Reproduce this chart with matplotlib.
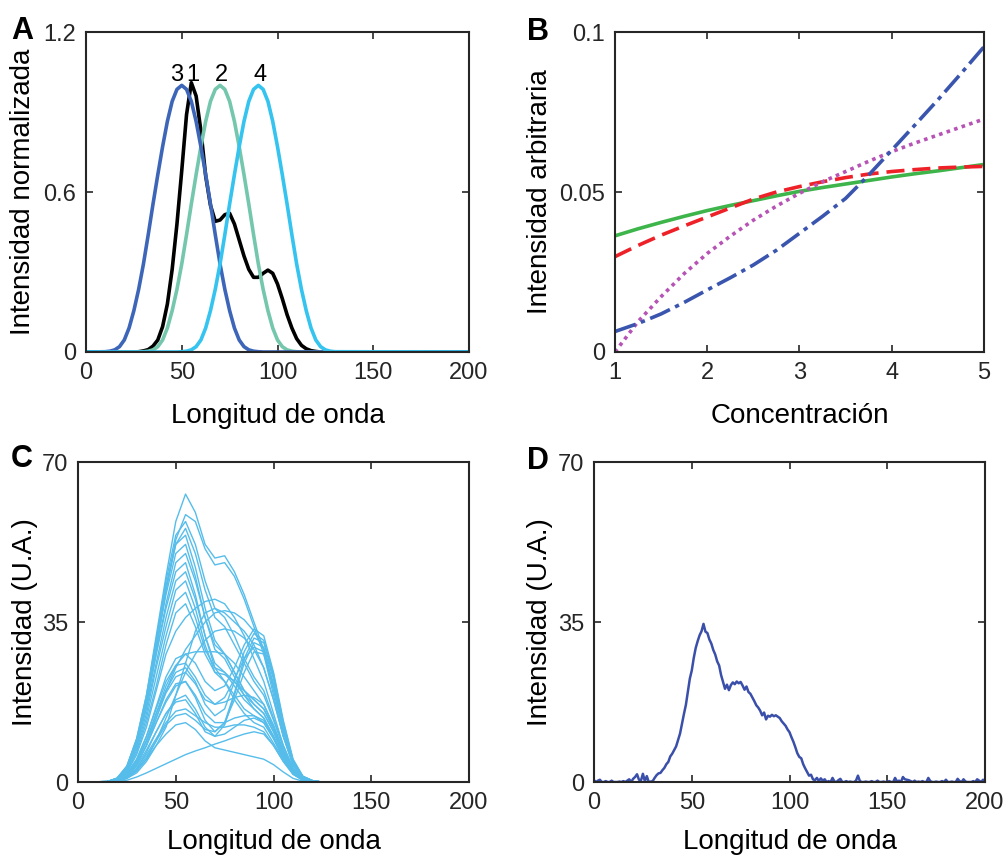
import numpy as np
import matplotlib
matplotlib.use("Agg")
import matplotlib.pyplot as plt

plt.rcParams['font.family'] = ['Liberation Sans', 'DejaVu Sans']
plt.rcParams['font.size'] = 17

# ---- panel A: normalised component spectra
wl_a = [0, 10, 12.5, 15, 17.5, 20, 22.5, 25, 27.5, 30, 32.5, 35, 37.5, 40, 42.5, 45, 47.5,
        50, 52.5, 55, 57.5, 60, 62.5, 65, 67.5, 70, 72.5, 75, 77.5, 80, 82.5, 85, 87.5,
        90, 92.5, 95, 97.5, 100, 102.5, 105, 107.5, 110, 112.5, 115, 117.5, 120, 122.5,
        125, 127.5, 130, 200]
spec_1 = [0, 0, 0, 0, 0, 0, 0, 0, 0.001, 0.004, 0.009, 0.022, 0.045, 0.095, 0.18, 0.31,
          0.48, 0.68, 0.89, 1.01, 0.96, 0.83, 0.66, 0.55, 0.49, 0.495, 0.515, 0.52, 0.48,
          0.42, 0.36, 0.31, 0.28, 0.28, 0.295, 0.307, 0.295, 0.255, 0.2, 0.14, 0.09, 0.05,
          0.025, 0.012, 0.005, 0.002, 0, 0, 0, 0, 0]
spec_2 = [0, 0, 0, 0, 0, 0, 0, 0, 0, 0.001, 0.003, 0.008, 0.02, 0.045, 0.09, 0.155, 0.235,
          0.33, 0.44, 0.555, 0.665, 0.77, 0.865, 0.94, 0.985, 1.0, 0.985, 0.94, 0.865, 0.77,
          0.665, 0.555, 0.44, 0.33, 0.235, 0.155, 0.09, 0.045, 0.02, 0.008, 0.003, 0.001,
          0, 0, 0, 0, 0, 0, 0, 0, 0]
spec_3 = [0, 0.001, 0.003, 0.008, 0.02, 0.045, 0.09, 0.155, 0.235, 0.33, 0.44, 0.555,
          0.665, 0.77, 0.865, 0.94, 0.985, 1.0, 0.985, 0.94, 0.865, 0.77, 0.665, 0.555,
          0.44, 0.33, 0.235, 0.155, 0.09, 0.045, 0.02, 0.008, 0.003, 0.001,
          0, 0, 0, 0, 0, 0, 0, 0, 0, 0, 0, 0, 0, 0, 0, 0, 0]
spec_4 = [0, 0, 0, 0, 0, 0, 0, 0, 0, 0, 0, 0, 0, 0, 0, 0, 0, 0.001, 0.003, 0.008, 0.02,
          0.045, 0.09, 0.155, 0.235, 0.33, 0.44, 0.555, 0.665, 0.77, 0.865, 0.94, 0.985,
          1.0, 0.985, 0.94, 0.865, 0.77, 0.665, 0.555, 0.44, 0.33, 0.235, 0.155, 0.09,
          0.045, 0.02, 0.008, 0.003, 0.001, 0]
peak_labels = ["3", "1", "2", "4"]
peak_label_x = [47.4, 55.6, 70.9, 91.0]

# ---- panel B: intensity vs concentration
conc = [1, 1.25, 1.5, 1.75, 2, 2.25, 2.5, 2.75, 3, 3.25, 3.5, 3.75, 4, 4.25, 4.5, 4.75, 5]
int_green = [0.0363, 0.0385, 0.0405, 0.0424, 0.0442, 0.0458, 0.0473, 0.0488, 0.0502, 0.0514,
             0.0525, 0.0536, 0.0547, 0.0557, 0.0566, 0.0576, 0.0586]
int_red = [0.0298, 0.0333, 0.0365, 0.0394, 0.0422, 0.0450, 0.0478, 0.0500, 0.0517, 0.0532,
           0.0545, 0.0556, 0.0564, 0.0570, 0.0575, 0.0578, 0.0580]
int_magenta = [0, 0.0095, 0.0173, 0.0245, 0.0308, 0.0362, 0.0412, 0.0456, 0.0496, 0.0532,
               0.0564, 0.0596, 0.0626, 0.0653, 0.0678, 0.0703, 0.0728]
int_blue = [0.0064, 0.0089, 0.0119, 0.0155, 0.0194, 0.0232, 0.0272, 0.0318, 0.0371, 0.0424,
            0.0480, 0.0553, 0.0631, 0.0709, 0.0788, 0.0870, 0.0954]

# ---- panel C: mixture spectra
wl_c = [0, 15, 20, 25, 30, 35, 40, 45, 50, 55, 60, 65, 70, 75, 80, 85, 90, 95, 100, 105,
        110, 115, 120, 125, 200]
spectra_c = [
    [0, 0.1, 0.8, 3.5, 9.5, 19, 32, 45, 57, 63, 59, 52, 49, 49.5, 46, 41, 35, 29, 20, 11, 4, 1, 0.2, 0, 0],
    [0, 0.1, 0.7, 3, 8.5, 17, 29, 42, 53, 58.5, 57, 51, 47.5, 48, 45, 40, 34, 28, 19, 10, 3.5, 0.9, 0.2, 0, 0],
    [0, 0.1, 0.8, 3.2, 9, 18, 31, 44, 54, 57, 52, 44, 38, 36, 32, 27, 23, 20, 14, 8, 3, 0.8, 0.2, 0, 0],
    [0, 0.1, 0.7, 3, 8.5, 17, 29, 42, 52, 55.5, 50, 42, 36, 34, 30, 26, 22, 19, 13.5, 7.5, 2.8, 0.7, 0.1, 0, 0],
    [0, 0.1, 0.9, 3.5, 9.5, 19, 31, 43, 52, 54, 47, 38, 31, 28, 24, 20, 17, 15, 11, 6, 2.3, 0.6, 0.1, 0, 0],
    [0, 0.1, 0.8, 3.2, 9, 18, 30, 41, 50, 52, 45, 36, 29, 27, 23, 19, 16, 14, 10, 5.5, 2, 0.5, 0.1, 0, 0],
    [0, 0.1, 0.7, 3, 8.5, 17, 28, 39, 48, 50, 44, 36, 30, 28, 24, 20, 18, 16, 11.5, 6.5, 2.5, 0.6, 0.1, 0, 0],
    [0, 0.1, 0.8, 3.3, 9, 17, 28, 38, 46, 48, 41, 32, 25, 22, 18, 15, 13, 12, 8.5, 5, 1.8, 0.5, 0.1, 0, 0],
    [0, 0.1, 0.7, 3, 8, 16, 26, 36, 44, 46, 40, 32, 26, 24, 21, 18, 16, 14, 10, 5.5, 2, 0.5, 0.1, 0, 0],
    [0, 0.1, 0.6, 2.6, 7.5, 15, 25, 34, 42, 44, 38, 30, 24, 22, 19, 16, 14.5, 13, 9.5, 5.2, 1.9, 0.5, 0.1, 0, 0],
    [0, 0.1, 0.6, 2.5, 7, 14, 23, 32, 39.5, 41.5, 36, 29, 25, 24, 22, 19, 17, 15, 11, 6, 2.2, 0.6, 0.1, 0, 0],
    [0, 0.1, 0.5, 2.2, 6.5, 13, 21, 30, 37, 39, 34, 28, 24, 23.5, 22, 20, 18, 16, 12, 6.5, 2.4, 0.6, 0.1, 0, 0],
    [0, 0.05, 0.4, 1.8, 5, 10, 16.5, 23, 27, 28, 26, 22, 20, 21, 25, 30, 33.5, 32, 24, 13.5, 5, 1.3, 0.3, 0, 0],
    [0, 0.05, 0.3, 1.5, 4.5, 9, 15, 20, 24, 25, 22, 17, 14.5, 16, 22, 28.5, 32.5, 31, 23.5, 13, 4.8, 1.2, 0.3, 0, 0],
    [0, 0, 0.3, 1.3, 3.8, 8, 13, 18, 21.5, 22, 18.5, 13.5, 11, 13, 19.5, 27, 31.5, 30.5, 23, 12.5, 4.6, 1.2, 0.3, 0, 0],
    [0, 0, 0.2, 1, 3, 6.5, 11, 15, 17.5, 18, 15, 11, 10, 12.5, 19, 26, 30.5, 29.5, 22.5, 12, 4.4, 1.1, 0.3, 0, 0],
    [0, 0.05, 0.4, 1.7, 5, 10, 16, 22, 25.5, 26, 23, 19, 17, 18.5, 22.5, 27, 29.5, 28.5, 21.5, 12, 4.3, 1.1, 0.3, 0, 0],
    [0, 0, 0.2, 0.9, 2.7, 5.5, 9, 12.5, 14.5, 15, 13.5, 11.5, 11, 13, 18, 24, 28.5, 28, 21, 11.5, 4.2, 1, 0.2, 0, 0],
    [0, 0, 0.2, 0.8, 2, 4.5, 8, 12, 19, 26, 33, 37, 38, 37, 35, 33, 30, 25, 18, 10, 4, 1, 0.2, 0, 0],
    [0, 0.05, 0.3, 1.3, 3.8, 8, 14, 20, 25, 29, 32, 35, 37, 37.5, 37, 35.5, 33, 29, 21, 11.5, 4.2, 1.1, 0.3, 0, 0],
    [0, 0.05, 0.5, 2, 6, 12, 20, 28, 33, 36, 38, 39.5, 40, 39, 36, 32, 27, 22, 15, 8, 3, 0.8, 0.2, 0, 0],
    [0, 0.05, 0.4, 1.6, 4.5, 9, 15, 21, 25.5, 28, 28.5, 28.5, 28.5, 28, 26, 23, 20, 17, 12, 6.5, 2.4, 0.6, 0.1, 0, 0],
    [0, 0, 0.2, 0.8, 2.4, 5, 9, 14, 19, 24, 28, 31, 33, 33.5, 33, 31.5, 29, 25, 18, 10, 3.8, 1, 0.2, 0, 0],
    [0, 0, 0.1, 0.4, 1.1, 2, 3, 4, 5, 6, 6.8, 7.5, 8.3, 9, 9.8, 10.5, 11, 10.5, 8, 4.5, 1.7, 0.4, 0.1, 0, 0],
    [0, 0, 0.2, 0.9, 2.5, 5, 8, 10.5, 12.5, 13, 11.5, 9, 7.5, 7, 6.5, 6, 5.5, 5, 3.8, 2.2, 0.8, 0.2, 0, 0, 0],
    [0, 0, 0.2, 1, 3, 6, 9.5, 13, 15.5, 16, 14.5, 13, 12, 12, 12.5, 12.5, 12, 11, 8, 4.5, 1.7, 0.4, 0.1, 0, 0],
    [0, 0.05, 0.3, 1.2, 3.5, 7, 11, 15, 18, 19, 16, 12, 10, 10.5, 12, 13.5, 14, 13, 9.5, 5.2, 1.9, 0.5, 0.1, 0, 0],
    [0, 0.05, 0.3, 1.4, 4, 8, 13, 17.5, 21, 22, 19, 15, 13, 13, 14, 14.5, 14.5, 13.5, 10, 5.5, 2, 0.5, 0.1, 0, 0],
    [0, 0.05, 0.4, 1.6, 4.5, 9, 14, 19.5, 23, 24, 21.5, 18, 17, 17.5, 18.5, 19, 18.5, 17, 12.5, 7, 2.5, 0.6, 0.1, 0, 0],
]

# ---- panel D: one measured (noisy) spectrum, 1 nm steps 0..200
wl_d = np.arange(0, 201)
int_d = [0.4, 0.0, 0.3, 0.5, 0.0, 0.0, 0.2, 0.0, 0.0, 0.3,
         0.0, 0.0, 0.0, 0.1, 0.0, 0.2, 0.0, 0.3, 0.6, 0.0,
         0.7, 1.1, 1.7, 0.5, 0.3, 1.8, 0.2, 1.3, 0.0, 0.1,
         0.2, 0.9, 1.5, 1.9, 2.0, 2.6, 3.1, 3.9, 4.4, 5.6,
         6.2, 7.0, 7.8, 9.2, 10.6, 12.8, 14.9, 16.9, 19.8, 22.6,
         24.4, 27.1, 29.3, 30.8, 32.1, 33.0, 34.6, 32.9, 32.6, 31.2,
         30.3, 28.9, 27.9, 26.4, 25.5, 23.4, 21.9, 20.4, 21.3, 20.1,
         21.2, 21.8, 21.4, 22.0, 21.6, 21.9, 21.1, 20.2, 20.9, 19.7,
         19.3, 18.5, 17.7, 16.8, 16.3, 15.6, 14.6, 15.2, 13.7, 14.5,
         14.3, 14.7, 14.4, 14.6, 14.3, 14.0, 13.3, 12.8, 12.3, 11.5,
         10.9, 9.8, 8.8, 7.6, 6.3, 5.5, 5.2, 3.9, 3.0, 2.2,
         1.4, 1.6, 0.6, 0.4, 0.9, 0.2, 0.8, 0.3, 0.6, 0.0,
         0.2, 0.0, 0.9, 0.1, 0.0, 0.4, 0.7, 0.0, 0.0, 0.2,
         0.0, 0.1, 0.0, 0.0, 0.3, 1.4, 0.2, 0.0, 0.0, 0.1,
         0.0, 0.0, 0.2, 0.0, 0.0, 0.3, 0.0, 0.0, 0.1, 0.0,
         0.0, 0.2, 0.0, 0.0, 0.9, 0.1, 0.3, 0.0, 1.1, 0.6,
         0.5, 0.4, 0.2, 0.0, 0.3, 0.0, 0.1, 0.0, 0.2, 0.0,
         0.0, 0.9, 0.2, 0.0, 0.0, 0.1, 0.0, 0.0, 0.2, 0.0,
         0.5, 0.0, 0.0, 0.1, 0.0, 0.0, 0.7, 0.2, 0.0, 0.6,
         0.1, 0.0, 0.0, 0.0, 0.2, 0.0, 0.6, 0.3, 0.0, 0.5,
         0.2]

dark = '#262626'
lab_fs = 20


def style(ax):
    for s in ax.spines.values():
        s.set_linewidth(1.5)
        s.set_color(dark)
    ax.tick_params(direction='in', top=True, right=True, length=5, width=1.2,
                   colors=dark, labelsize=17, pad=7)


fig = plt.figure(figsize=(10.08, 8.56), dpi=100)
axA = fig.add_axes([0.0853, 0.5888, 0.3800, 0.3738])
axB = fig.add_axes([0.6101, 0.5888, 0.3661, 0.3738])
axC = fig.add_axes([0.0774, 0.0864, 0.3879, 0.3738])
axD = fig.add_axes([0.5893, 0.0864, 0.3879, 0.3738])

# A
axA.plot(wl_a, spec_1, color='black', lw=2.6)
axA.plot(wl_a, spec_2, color='#74C7AC', lw=2.6)
axA.plot(wl_a, spec_3, color='#3D66B9', lw=2.6)
axA.plot(wl_a, spec_4, color='#35C3EF', lw=2.6)
for lab, px in zip(peak_labels, peak_label_x):
    axA.text(px, 1.015, lab, ha='center', va='baseline', fontsize=17)
axA.set_xlim(0, 200)
axA.set_ylim(0, 1.2)
axA.set_xticks([0, 50, 100, 150, 200])
axA.set_yticks([0, 0.6, 1.2])
axA.set_yticklabels(['0', '0.6', '1.2'])
axA.set_xlabel('Longitud de onda', fontsize=lab_fs)
axA.set_ylabel('Intensidad normalizada', fontsize=lab_fs)
axA.xaxis.set_label_coords(0.5, -0.16)
axA.yaxis.set_label_coords(-0.13, 0.5)
style(axA)

# B
axB.plot(conc, int_green, color='#3DB54A', lw=2.6)
axB.plot(conc, int_red, color='#EE2128', lw=2.6, linestyle=(0, (5, 2.2)))
axB.plot(conc, int_magenta, color='#B653B5', lw=2.6, linestyle=(0, (1, 1.2)))
axB.plot(conc, int_blue, color='#3A55AE', lw=2.6, linestyle=(0, (6, 1.6, 1.2, 1.6)))
axB.set_xlim(1, 5)
axB.set_ylim(0, 0.1)
axB.set_xticks([1, 2, 3, 4, 5])
axB.set_yticks([0, 0.05, 0.1])
axB.set_yticklabels(['0', '0.05', '0.1'])
axB.set_xlabel('Concentración', fontsize=lab_fs)
axB.set_ylabel('Intensidad arbitraria', fontsize=lab_fs)
axB.xaxis.set_label_coords(0.5, -0.16)
axB.yaxis.set_label_coords(-0.168, 0.5)
style(axB)

# C
for sp in spectra_c:
    axC.plot(wl_c, sp, color='#56BDEB', lw=1.0)
axC.set_xlim(0, 200)
axC.set_ylim(0, 70)
axC.set_xticks([0, 50, 100, 150, 200])
axC.set_yticks([0, 35, 70])
axC.set_xlabel('Longitud de onda', fontsize=lab_fs)
axC.set_ylabel('Intensidad (U.A.)', fontsize=lab_fs)
axC.xaxis.set_label_coords(0.5, -0.147)
axC.yaxis.set_label_coords(-0.102, 0.5)
style(axC)

# D
axD.plot(wl_d, int_d, color='#3A4FA9', lw=1.8)
axD.set_xlim(0, 200)
axD.set_ylim(0, 70)
axD.set_xticks([0, 50, 100, 150, 200])
axD.set_yticks([0, 35, 70])
axD.set_xlabel('Longitud de onda', fontsize=lab_fs)
axD.set_ylabel('Intensidad (U.A.)', fontsize=lab_fs)
axD.xaxis.set_label_coords(0.5, -0.147)
axD.yaxis.set_label_coords(-0.105, 0.5)
style(axD)

for lab, fx, fy in [('A', 22, 31), ('B', 538, 32), ('C', 22, 459), ('D', 538, 461)]:
    fig.text(fx / 1008, 1 - fy / 856, lab, fontsize=22, fontweight='bold',
             ha='center', va='center')

fig.savefig('out.png', dpi=100)
